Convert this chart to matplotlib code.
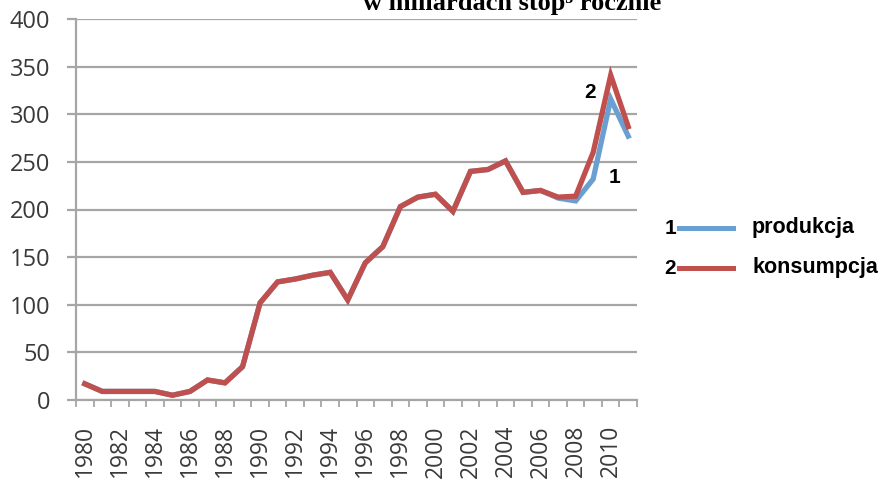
import matplotlib.pyplot as plt
from matplotlib.lines import Line2D
import numpy as np

# data
years = list(range(1980, 2012))
konsumpcja = [17, 9, 9, 9, 9, 5, 9, 21, 18, 35,
              102, 124, 127, 131, 134, 105, 144, 161, 203, 213,
              216, 198, 240, 242, 251, 218, 220, 213, 214, 260,
              341, 287]
produkcja = [17, 9, 9, 9, 9, 5, 9, 21, 18, 35,
             102, 124, 127, 131, 134, 105, 144, 161, 203, 213,
             216, 198, 240, 242, 251, 218, 220, 212, 209, 232,
             316, 277]
yticks = [0, 50, 100, 150, 200, 250, 300, 350, 400]

blue = "#6a9fd2"
red = "#c0504d"
grid = "#a6a6a6"
txt = "#3a3a3a"

fig = plt.figure(figsize=(8.81, 4.82), dpi=100)
ax = fig.add_axes([76/881, 1 - 400/482, 561/881, 381/482])

x = np.arange(len(years))
ax.plot(x, produkcja, color=blue, lw=3.8, solid_joinstyle="miter", zorder=3)
ax.plot(x, konsumpcja, color=red, lw=3.8, solid_joinstyle="miter", zorder=4)

ax.set_xlim(-0.5, len(years) - 0.5)
ax.set_ylim(0, 400)

# ticks: x ticks sit between categories, labels at even years
ax.set_yticks(yticks)
ax.set_yticklabels([str(v) for v in yticks])
ax.set_xticks(x[::2])
ax.set_xticklabels([str(y) for y in years[::2]], rotation=90)
ax.set_xticks(np.arange(-0.5, len(years)), minor=True)
ax.tick_params(axis="y", length=6.5, width=1.6, color=grid, pad=12,
               labelsize=17, labelcolor=txt, labelfontfamily="Open Sans")
ax.tick_params(axis="x", which="major", length=0, pad=18,
               labelsize=16.5, labelcolor=txt, labelfontfamily="Open Sans")
ax.tick_params(axis="x", which="minor", length=5, width=1.3, color=grid)
ax.yaxis.grid(True, color=grid, lw=1.6)

for s in ["top", "right"]:
    ax.spines[s].set_visible(False)
ax.spines["left"].set_color(grid)
ax.spines["left"].set_linewidth(1.6)
ax.spines["bottom"].set_color(grid)
ax.spines["bottom"].set_linewidth(1.6)
ax.set_axisbelow(True)

# series numbers on the chart
ax.text(28.8, 323, "2", fontsize=15, fontweight="bold", family="Liberation Sans",
        ha="center", va="center")
ax.text(30.2, 234, "1", fontsize=15, fontweight="bold", family="Liberation Sans",
        ha="center", va="center")

# title (cut off at the top like the original)
fig.text(512/881, 1 - 10/482, "w miliardach stóp³ rocznie", fontsize=19,
         fontweight="bold", family="Liberation Serif", ha="center", va="baseline")

# hand-drawn legend
fig.text(670/881, 1 - 228/482, "1", fontsize=15, fontweight="bold",
         family="Liberation Sans", ha="center", va="center")
fig.add_artist(Line2D([679/881, 733/881], [1 - 228/482, 1 - 228/482],
                      color=blue, lw=3.6))
fig.text(752/881, 1 - 228/482, "produkcja", fontsize=15.5, fontweight="bold",
         family="Liberation Sans", ha="left", va="center")
fig.text(670/881, 1 - 268/482, "2", fontsize=15, fontweight="bold",
         family="Liberation Sans", ha="center", va="center")
fig.add_artist(Line2D([679/881, 733/881], [1 - 268/482, 1 - 268/482],
                      color=red, lw=3.6))
fig.text(752/881, 1 - 268/482, "konsumpcja", fontsize=15.5, fontweight="bold",
         family="Liberation Sans", ha="left", va="center")

fig.savefig("out.png", dpi=100)
